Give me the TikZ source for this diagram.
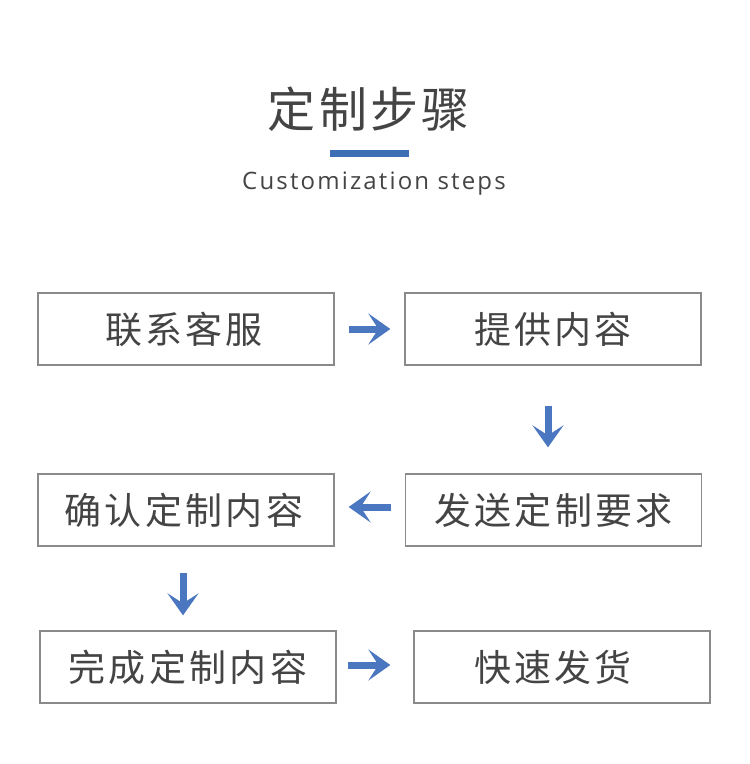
\documentclass[tikz,border=0pt]{standalone}
\usepackage{fontspec}
\usepackage{tikz}
\usetikzlibrary{arrows.meta}
\setmainfont{Open Sans}
\newfontfamily\cjk[LetterSpace=9]{Noto Sans CJK SC}
\newfontfamily\cjktitle[LetterSpace=7]{Noto Sans CJK SC}
\newfontfamily\subfont[LetterSpace=9]{Open Sans}
\definecolor{blue1}{HTML}{4a77bf}
\definecolor{blue2}{HTML}{3d6db5}
\definecolor{gray1}{HTML}{444444}
\definecolor{gray2}{HTML}{8a8a8a}
\tikzset{
  stepbox/.style={draw=gray2, line width=1.3pt, minimum width=296pt, minimum height=72pt,
    text=gray1, font=\cjk\fontsize{37}{42}\selectfont},
  flow/.style={draw=blue1, line width=7pt, -{Stealth[length=22pt, width=31pt, inset=10pt]}}
}

\begin{document}
\begin{tikzpicture}[x=1pt, y=-1pt]
\useasboundingbox[fill=white] (0,0) rectangle (750,764);

% title
\node[text=gray1, font=\cjktitle\fontsize{48}{54}\selectfont] (title) at (369,109) {定制步骤};
\fill[blue2] (330,150) rectangle (409,157);
\node[text=gray1, font=\subfont\fontsize{24}{28}\selectfont] (sub) at (374,184) {Customization steps};

% steps
\node[stepbox] (b1) at (186,329) {\hspace*{-4pt}联系客服};
\node[stepbox] (b2) at (553,329) {提供内容};
\node[stepbox] (b3) at (553.5,510) {发送定制要求};
\node[stepbox] (b4) at (186,510) {\hspace*{-4pt}确认定制内容};
\node[stepbox] (b5) at (188,667) {完成定制内容};
\node[stepbox] (b6) at (562,667) {\hspace*{-18pt}快速发货};

% arrows
\draw[flow, shorten <=14pt, shorten >=14pt] (b1.east) -- (b2.west);
\draw[flow, shorten <=40pt, shorten >=26pt] ([xshift=-5pt]b2.south) -- ([xshift=-5.5pt]b3.north);
\draw[flow, shorten <=14pt, shorten >=14pt] ([yshift=3pt]b3.west) -- ([yshift=3pt]b4.east);
\draw[flow, shorten <=26pt, shorten >=15pt] ([xshift=-3pt]b4.south) -- ([xshift=-5pt]b5.north);
\draw[flow, shorten <=11pt, shorten >=23pt] ([yshift=2pt]b5.east) -- ([yshift=2pt]b6.west);
\end{tikzpicture}
\end{document}
